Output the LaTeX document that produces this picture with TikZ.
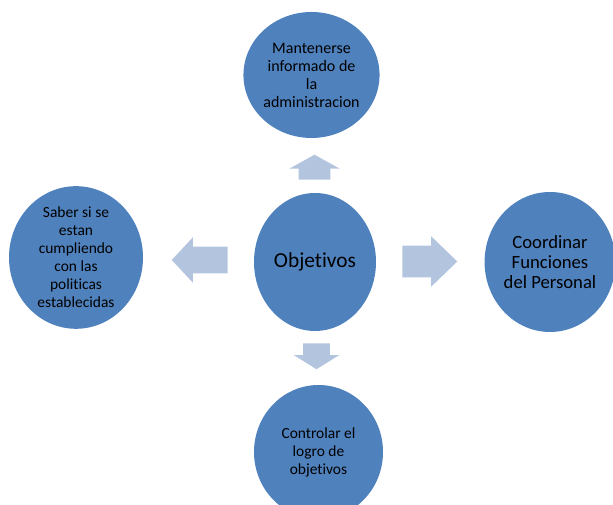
\documentclass[tikz,border=0pt]{standalone}
\usepackage{fontspec}
\setmainfont[Ligatures=NoCommon]{Carlito}
\usetikzlibrary{shapes.geometric,shapes.arrows}
\definecolor{circblue}{HTML}{4F81BD}
\definecolor{arrblue}{HTML}{B3C4DF}
\tikzset{
  objcircle/.style={ellipse, fill=circblue, inner sep=0pt, align=center, font=\fontsize{11.6}{13.5}\selectfont},
  blockarrow/.style={single arrow, fill=arrblue, anchor=tail, inner sep=0pt}
}
\begin{document}
\begin{tikzpicture}[x=0.75pt,y=0.75pt]
  \useasboundingbox (0,0) rectangle (613,505);
  % circulos
  \node[objcircle, minimum width=122*0.75pt, minimum height=138*0.75pt, font=\fontsize{16}{19}\selectfont] (obj) at (315,243) {Objetivos};
  \node[objcircle, minimum width=133*0.75pt, minimum height=126*0.75pt, font=\fontsize{12}{13.5}\selectfont] (info) at (311.5,430) {Mantenerse\\informado de\\la\\administracion};
  \node[objcircle, minimum width=128*0.75pt, minimum height=140*0.75pt, font=\fontsize{14}{15}\selectfont] (coord) at (550,243) {Coordinar\\Funciones\\del Personal};
  \node[objcircle, minimum width=134*0.75pt, minimum height=137*0.75pt] (saber) at (76,247.5) {Saber si se\\estan\\cumpliendo\\con las\\politicas\\establecidas};
  \node[objcircle, minimum width=129*0.75pt, minimum height=134*0.75pt] (ctrl) at (318.5,53) {Controlar el\\logro de\\objetivos};
  % flechas
  \node[blockarrow, shape border rotate=90, minimum height=25*0.75pt, minimum width=44*0.75pt, inner xsep=15.5*0.75pt, single arrow tip angle=122] (aup) at (314.5,325) {};
  \node[blockarrow, shape border rotate=0, minimum height=55*0.75pt, minimum width=43*0.75pt, inner ysep=15.5*0.75pt, single arrow tip angle=88] (aright) at (402,243.5) {};
  \node[blockarrow, shape border rotate=180, minimum height=56*0.75pt, minimum width=45*0.75pt, inner ysep=13*0.75pt, single arrow tip angle=94] (aleft) at (228,245) {};
  \node[blockarrow, shape border rotate=270, minimum height=26*0.75pt, minimum width=45*0.75pt, inner xsep=13*0.75pt, single arrow tip angle=116] (adown) at (316.5,162) {};
\end{tikzpicture}
\end{document}
